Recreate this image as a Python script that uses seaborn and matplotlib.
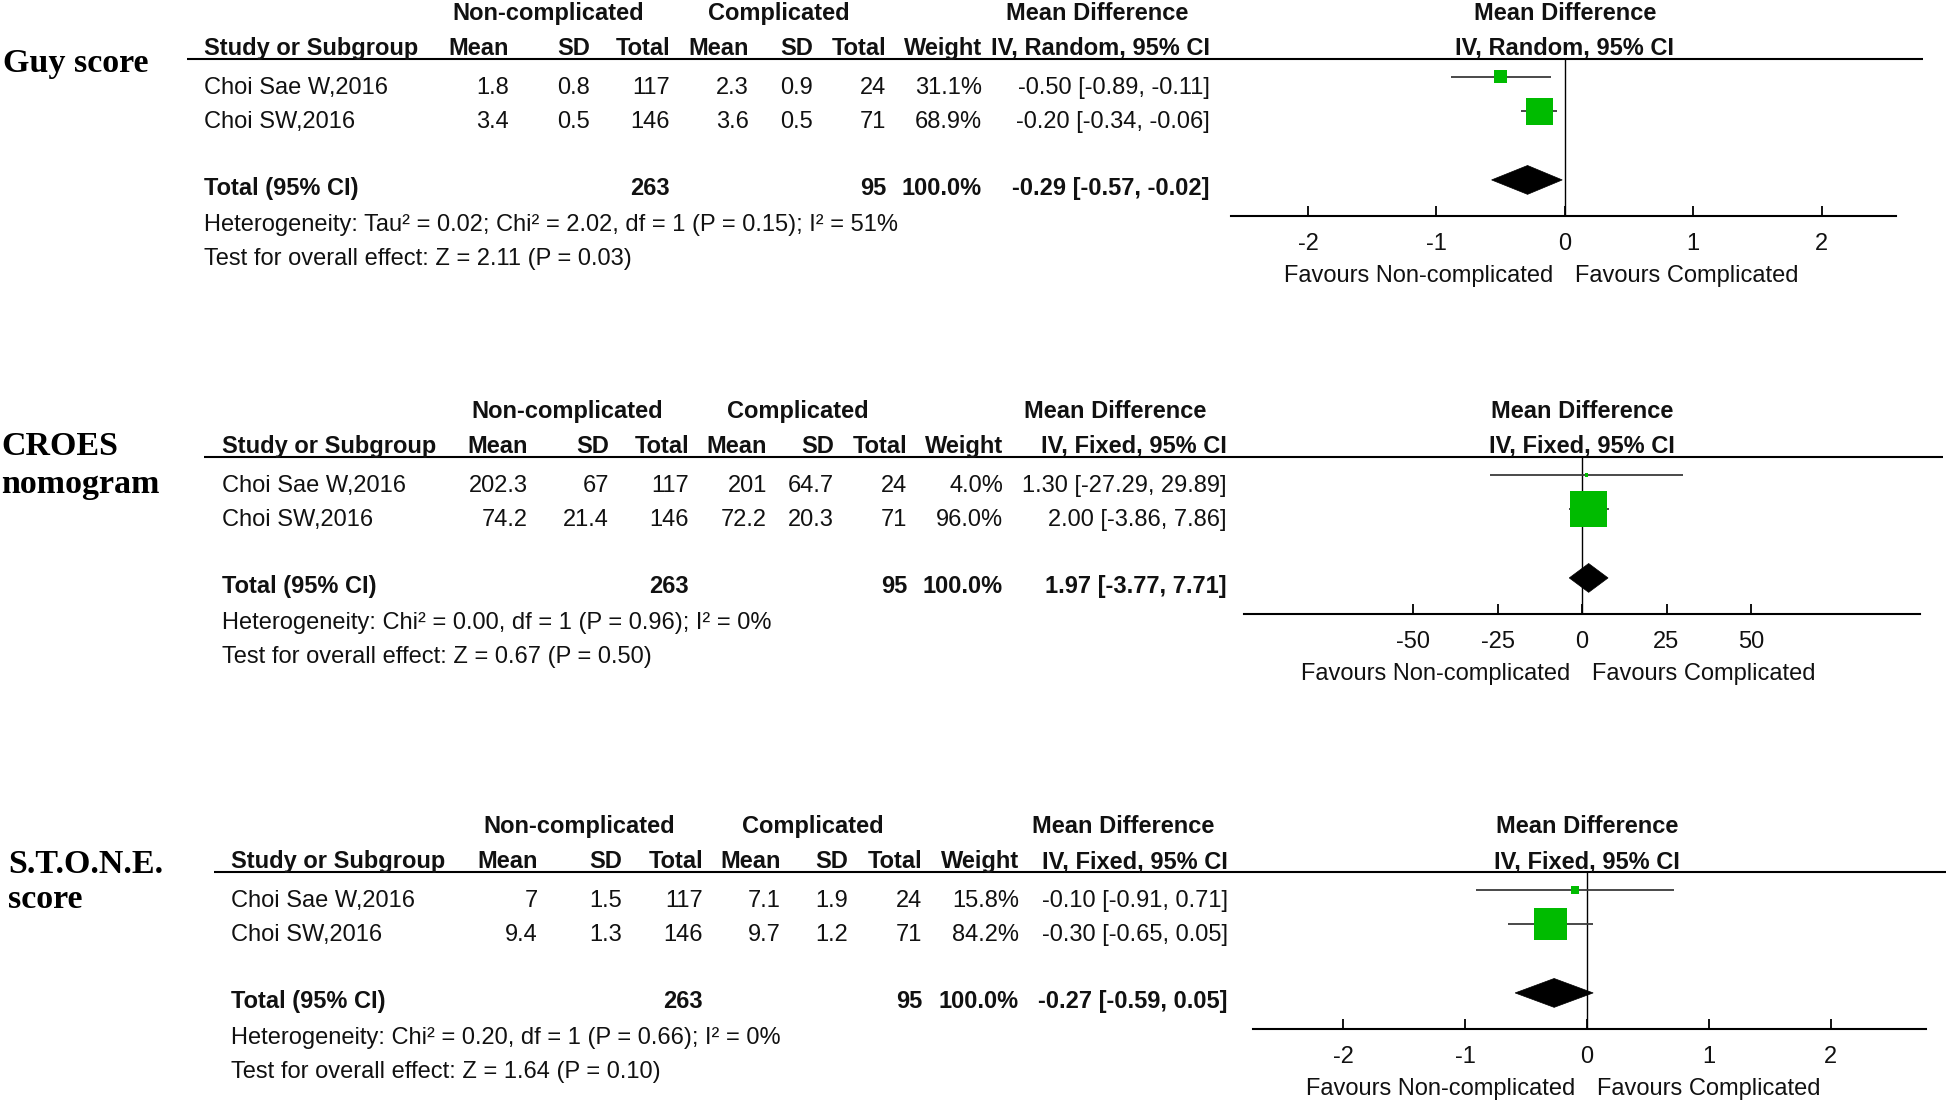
import numpy as np
import pandas as pd
import matplotlib
matplotlib.use("Agg")
import matplotlib.pyplot as plt
from matplotlib.patches import Polygon
import seaborn as sns

# ---------------- data ----------------
studies = ["Choi Sae W,2016", "Choi SW,2016"]
nc_total = [117, 146]
c_total = [24, 71]
nc_sum, c_sum = 263, 95

guy_nc_mean = [1.8, 3.4]
guy_nc_sd = [0.8, 0.5]
guy_c_mean = [2.3, 3.6]
guy_c_sd = [0.9, 0.5]
guy_weight = [31.1, 68.9]
guy_md = [-0.50, -0.20]
guy_lo = [-0.89, -0.34]
guy_hi = [-0.11, -0.06]
guy_total = [-0.29, -0.57, -0.02]
guy_het = "Heterogeneity: Tau\u00b2 = 0.02; Chi\u00b2 = 2.02, df = 1 (P = 0.15); I\u00b2 = 51%"
guy_test = "Test for overall effect: Z = 2.11 (P = 0.03)"

croes_nc_mean = [202.3, 74.2]
croes_nc_sd = [67, 21.4]
croes_c_mean = [201, 72.2]
croes_c_sd = [64.7, 20.3]
croes_weight = [4.0, 96.0]
croes_md = [1.30, 2.00]
croes_lo = [-27.29, -3.86]
croes_hi = [29.89, 7.86]
croes_total = [1.97, -3.77, 7.71]
croes_het = "Heterogeneity: Chi\u00b2 = 0.00, df = 1 (P = 0.96); I\u00b2 = 0%"
croes_test = "Test for overall effect: Z = 0.67 (P = 0.50)"

stone_nc_mean = [7, 9.4]
stone_nc_sd = [1.5, 1.3]
stone_c_mean = [7.1, 9.7]
stone_c_sd = [1.9, 1.2]
stone_weight = [15.8, 84.2]
stone_md = [-0.10, -0.30]
stone_lo = [-0.91, -0.65]
stone_hi = [0.71, 0.05]
stone_total = [-0.27, -0.59, 0.05]
stone_het = "Heterogeneity: Chi\u00b2 = 0.20, df = 1 (P = 0.66); I\u00b2 = 0%"
stone_test = "Test for overall effect: Z = 1.64 (P = 0.10)"

guy_ticks = [-2, -1, 0, 1, 2]
croes_ticks = [-50, -25, 0, 25, 50]
stone_ticks = [-2, -1, 0, 1, 2]

# ---------------- style ----------------
sns.set_theme(style="white")
plt.rcParams["font.family"] = ["Liberation Sans", "DejaVu Sans"]
plt.rcParams["axes.unicode_minus"] = False

W, H = 1946, 1102
fig = plt.figure(figsize=(W / 100, H / 100), dpi=100)
fig.patch.set_facecolor("white")
ax0 = fig.add_axes([0, 0, 1, 1])
ax0.set_xlim(0, W)
ax0.set_ylim(H, 0)
ax0.axis("off")

FS = 17
TXT = "#111111"
GREEN = "#00BB00"
LINE = "#3a3a3a"


def t(x, y, s, ha="left", bold=False):
    ax0.text(x, y, s, ha=ha, va="baseline", fontsize=FS,
             fontweight="bold" if bold else "normal", color=TXT)


def fmt(v):
    return f"{v:g}"


panels = [
    dict(label=["Guy score"], lab_x=3, lab_base=[72], hb=55, rule=(187, 1923),
         study_x=204, cols=[509, 590, 670, 749, 813, 886, 982, 1210],
         nc_c=548, c_c=779, md_c=1097, fx=(1231, 1896), xlim=(-2.6, 2.58),
         method="IV, Random, 95% CI", ticks=guy_ticks,
         nm=guy_nc_mean, nsd=guy_nc_sd, cm=guy_c_mean, csd=guy_c_sd,
         w=guy_weight, md=guy_md, lo=guy_lo, hi=guy_hi, tot=guy_total,
         het=guy_het, test=guy_test),
    dict(label=["CROES", "nomogram"], lab_x=1, lab_base=[455, 493], hb=453,
         rule=(204, 1943), study_x=222, cols=[528, 609, 689, 767, 834, 907, 1003, 1227],
         nc_c=567, c_c=798, md_c=1115, fx=(1244, 1920), xlim=(-100, 100),
         method="IV, Fixed, 95% CI", ticks=croes_ticks,
         nm=croes_nc_mean, nsd=croes_nc_sd, cm=croes_c_mean, csd=croes_c_sd,
         w=croes_weight, md=croes_md, lo=croes_lo, hi=croes_hi, tot=croes_total,
         het=croes_het, test=croes_test),
    dict(label=["S.T.O.N.E.", "score"], lab_x=8, lab_base=[873, 908], hb=868,
         rule=(214, 1946), study_x=231, cols=[538, 622, 703, 781, 848, 922, 1019, 1228],
         nc_c=579, c_c=813, md_c=1123, fx=(1253, 1926), xlim=(-2.74, 2.78),
         method="IV, Fixed, 95% CI", ticks=stone_ticks,
         nm=stone_nc_mean, nsd=stone_nc_sd, cm=stone_c_mean, csd=stone_c_sd,
         w=stone_weight, md=stone_md, lo=stone_lo, hi=stone_hi, tot=stone_total,
         het=stone_het, test=stone_test),
]

for i, p in enumerate(panels):
    hb = p["hb"]
    # left bold label
    for lab, b in zip(p["label"], p["lab_base"]):
        ax0.text(p["lab_x"], b, lab, ha="left", va="baseline",
                 fontsize=24.5, fontweight="bold", color="black",
                 family=["Liberation Serif", "DejaVu Serif"])
    cols = p["cols"]
    # group headers
    t(p["nc_c"], hb - 35, "Non-complicated", ha="center", bold=True)
    t(p["c_c"], hb - 35, "Complicated", ha="center", bold=True)
    t(p["md_c"], hb - 35, "Mean Difference", ha="center", bold=True)
    # column headers
    t(p["study_x"], hb, "Study or Subgroup", bold=True)
    for x, s in zip(cols, ["Mean", "SD", "Total", "Mean", "SD", "Total", "Weight", p["method"]]):
        t(x, hb, s, ha="right", bold=True)
    ax0.plot(list(p["rule"]), [hb + 4, hb + 4], color="black", lw=1.5, solid_capstyle="butt")
    # study rows
    for r in range(len(studies)):
        y = hb + 39 + 34 * r
        t(p["study_x"], y, studies[r])
        vals = [fmt(p["nm"][r]), fmt(p["nsd"][r]), str(nc_total[r]),
                fmt(p["cm"][r]), fmt(p["csd"][r]), str(c_total[r]),
                f"{p['w'][r]:.1f}%",
                f"{p['md'][r]:.2f} [{p['lo'][r]:.2f}, {p['hi'][r]:.2f}]"]
        for x, s in zip(cols, vals):
            t(x, y, s, ha="right")
    # total row
    yT = hb + 140
    t(p["study_x"], yT, "Total (95% CI)", bold=True)
    t(cols[2], yT, str(nc_sum), ha="right", bold=True)
    t(cols[5], yT, str(c_sum), ha="right", bold=True)
    t(cols[6], yT, f"{sum(p['w']):.1f}%", ha="right", bold=True)
    tot = p["tot"]
    t(cols[7], yT, f"{tot[0]:.2f} [{tot[1]:.2f}, {tot[2]:.2f}]", ha="right", bold=True)
    t(p["study_x"], hb + 176, p["het"])
    t(p["study_x"], hb + 210, p["test"])

    # ---------------- forest plot ----------------
    L, R = p["fx"]
    top, bot = hb + 4, hb + 161
    ax = fig.add_axes([L / W, 1 - bot / H, (R - L) / W, (bot - top) / H])
    ax.patch.set_alpha(0)
    df = pd.DataFrame({"row": [0, 1], "md": p["md"], "lo": p["lo"], "hi": p["hi"],
                       "weight": p["w"]})
    ax.axvline(0, color="black", lw=1.0, zorder=1)
    ax.hlines(df["row"], df["lo"], df["hi"], color=LINE, lw=1.3, zorder=2)
    side_px = 0.36 * df["weight"] + 2.0
    sizes = {w: (s * 0.72) ** 2 for w, s in zip(df["weight"], side_px)}
    sns.scatterplot(data=df, x="md", y="row", size="weight", sizes=sizes, marker="s",
                    color=GREEN, edgecolor="none", linewidth=0, legend=False, ax=ax, zorder=3)
    h = 0.42
    ax.add_patch(Polygon([(tot[1], 3), (tot[0], 3 - h), (tot[2], 3), (tot[0], 3 + h)],
                         closed=True, facecolor="black", edgecolor="black", lw=0.5, zorder=3))
    ax.set_xlim(*p["xlim"])
    ax.set_ylim(4.05, -0.52)
    ax.set_xticks(p["ticks"])
    ax.set_xticklabels([str(v) for v in p["ticks"]])
    ax.set_yticks([])
    ax.set_xlabel("")
    ax.set_ylabel("")
    for s in ["top", "left", "right"]:
        ax.spines[s].set_visible(False)
    ax.spines["bottom"].set_color("black")
    ax.spines["bottom"].set_linewidth(1.5)
    ax.tick_params(axis="x", direction="in", length=7, width=1.3, color="black",
                   bottom=True, labelsize=FS, labelcolor=TXT, pad=12)
    ax.annotate("Mean Difference", xy=(0, 1), xycoords=("data", "axes fraction"),
                xytext=(0, 39), textcoords="offset pixels", ha="center", va="baseline",
                fontsize=FS, fontweight="bold", color=TXT, annotation_clip=False)
    ax.annotate(p["method"], xy=(0, 1), xycoords=("data", "axes fraction"),
                xytext=(0, 4), textcoords="offset pixels", ha="center", va="baseline",
                fontsize=FS, fontweight="bold", color=TXT, annotation_clip=False)
    ax.annotate("Favours Non-complicated", xy=(0, 0), xycoords=("data", "axes fraction"),
                xytext=(-12, -66), textcoords="offset pixels", ha="right", va="baseline",
                fontsize=FS, color=TXT, annotation_clip=False)
    ax.annotate("Favours Complicated", xy=(0, 0), xycoords=("data", "axes fraction"),
                xytext=(10, -66), textcoords="offset pixels", ha="left", va="baseline",
                fontsize=FS, color=TXT, annotation_clip=False)

fig.savefig("out.png", dpi=100, facecolor="white")
